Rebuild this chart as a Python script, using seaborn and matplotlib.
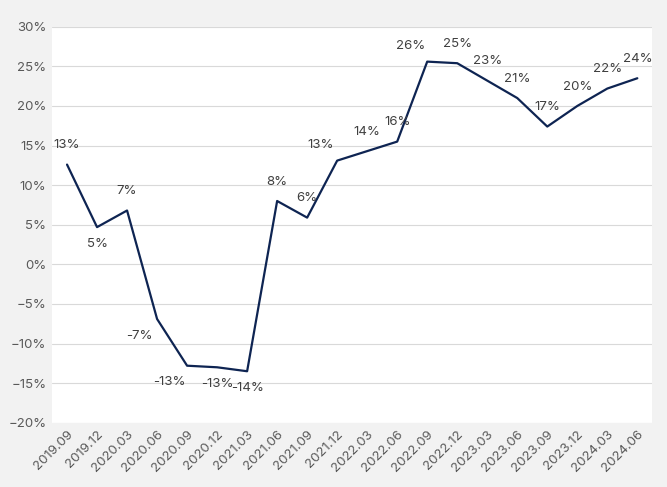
import numpy as np
import pandas as pd
import matplotlib.pyplot as plt
import seaborn as sns
from matplotlib.ticker import PercentFormatter

quarters = ['2019.09', '2019.12', '2020.03', '2020.06', '2020.09', '2020.12',
            '2021.03', '2021.06', '2021.09', '2021.12', '2022.03', '2022.06',
            '2022.09', '2022.12', '2023.03', '2023.06', '2023.09', '2023.12',
            '2024.03', '2024.06']
growth = [12.6, 4.7, 6.8, -6.9, -12.8, -13.0, -13.5, 8.0, 5.9, 13.1, 14.3, 15.5,
          25.6, 25.4, 23.2, 21.0, 17.4, 20.0, 22.2, 23.5]

# where each value label sits relative to its point
placement = ['up', 'down', 'up', 'downleft', 'downleft', 'down', 'down', 'up', 'up',
             'upleft', 'up', 'up', 'upleft', 'up', 'up', 'up', 'up', 'up', 'up', 'up']
offsets = {'up': (0, 14), 'down': (0, -12), 'upleft': (-12, 11), 'downleft': (-12.5, -12)}

df = pd.DataFrame({'quarter': quarters, 'growth': growth})
df['x'] = np.arange(len(df))

sns.set_style('white')
plt.rcParams['font.family'] = ['Inter', 'DejaVu Sans']

fig, ax = plt.subplots(figsize=(6.67, 4.87), dpi=100)
fig.patch.set_facecolor('#f2f2f2')
ax.set_facecolor('white')

sns.lineplot(data=df, x='x', y='growth', color='#0e2452', linewidth=1.6, ax=ax)

for xi, yi, pos in zip(df['x'], df['growth'], placement):
    dx, dy = offsets[pos]
    ax.annotate(f'{yi:.0f}%', (xi, yi), xytext=(dx, dy), textcoords='offset points',
                ha='center', va='center', fontsize=9.5, color='#404040')

ax.set_xlim(-0.5, len(df) - 0.5)
ax.set_ylim(-20, 30)
ax.set_yticks(range(-20, 31, 5))
ax.yaxis.set_major_formatter(PercentFormatter(decimals=0))
ax.set_xticks(df['x'])
ax.set_xticklabels(df['quarter'], rotation=45, ha='right', rotation_mode='anchor')
ax.tick_params(axis='both', labelsize=9.5, labelcolor='#595959', length=0, pad=4)
ax.grid(axis='y', color='#d9d9d9', linewidth=0.8)
ax.set_axisbelow(True)
ax.set_xlabel('')
ax.set_ylabel('')
sns.despine(ax=ax, left=True, bottom=True)

fig.subplots_adjust(left=0.078, right=0.978, top=0.945, bottom=0.132)
fig.savefig('out.png', dpi=100, facecolor=fig.get_facecolor())
